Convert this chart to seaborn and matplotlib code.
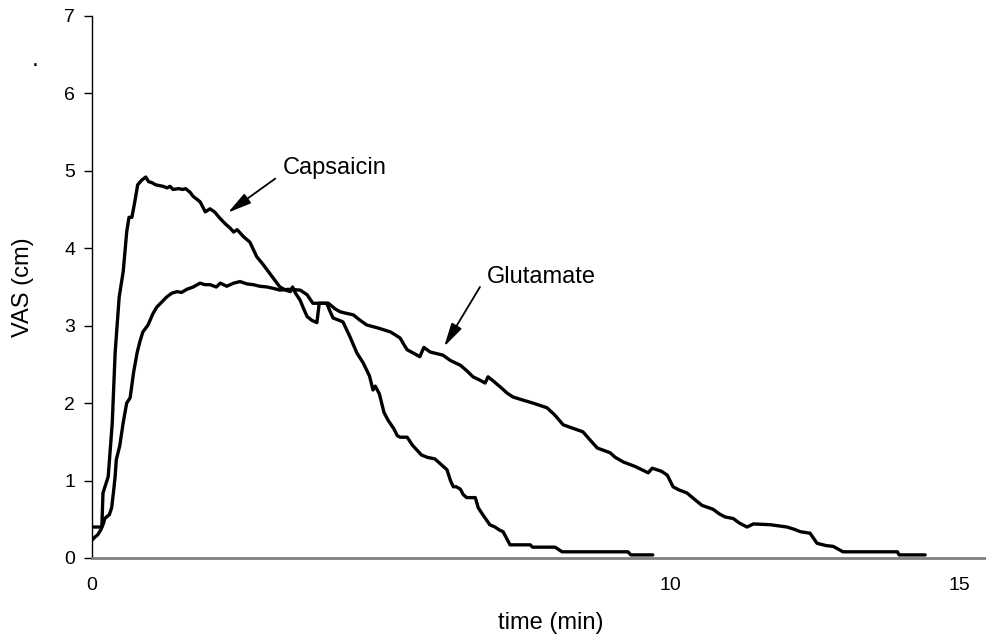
import numpy as np
import pandas as pd
import seaborn as sns
import matplotlib.pyplot as plt

# capsaicin curve (time in min, VAS in cm)
caps_t = [0, 0.17, 0.19, 0.28, 0.35, 0.40, 0.47, 0.54, 0.60, 0.64, 0.69, 0.74, 0.79, 0.86, 0.93,
          0.98, 1.03, 1.10, 1.23, 1.30, 1.35, 1.40, 1.50, 1.57, 1.62, 1.70, 1.75, 1.82, 1.87, 1.96,
          2.04, 2.12, 2.21, 2.30, 2.39, 2.45, 2.51, 2.62, 2.73, 2.85, 2.95, 3.03, 3.13, 3.25, 3.35,
          3.43, 3.47, 3.52, 3.60, 3.66, 3.72, 3.80, 3.89, 3.93, 4.06, 4.12, 4.17, 4.34, 4.46, 4.58,
          4.69, 4.80, 4.86, 4.90, 4.97, 5.05, 5.12, 5.22, 5.28, 5.33, 5.45, 5.55, 5.70, 5.80, 5.93,
          6.05, 6.14, 6.20, 6.25, 6.30, 6.37, 6.42, 6.48, 6.63, 6.68, 6.74, 6.88, 6.97, 7.05, 7.11,
          7.23, 7.58, 7.62, 8.01, 8.13, 9.27, 9.32, 9.70]
caps_v = [0.40, 0.40, 0.84, 1.05, 1.74, 2.65, 3.37, 3.70, 4.21, 4.40, 4.40, 4.60, 4.82, 4.88, 4.92,
          4.86, 4.85, 4.82, 4.80, 4.78, 4.80, 4.76, 4.77, 4.76, 4.77, 4.72, 4.67, 4.63, 4.60, 4.47,
          4.51, 4.47, 4.39, 4.32, 4.26, 4.21, 4.24, 4.15, 4.08, 3.89, 3.80, 3.72, 3.62, 3.50, 3.46,
          3.44, 3.50, 3.42, 3.33, 3.22, 3.12, 3.07, 3.04, 3.29, 3.29, 3.18, 3.10, 3.05, 2.86, 2.65,
          2.52, 2.35, 2.17, 2.22, 2.12, 1.88, 1.78, 1.67, 1.58, 1.56, 1.56, 1.45, 1.33, 1.30, 1.28,
          1.20, 1.14, 1.00, 0.92, 0.92, 0.89, 0.82, 0.78, 0.78, 0.65, 0.58, 0.43, 0.40, 0.36, 0.34,
          0.17, 0.17, 0.14, 0.14, 0.08, 0.08, 0.04, 0.04]

# glutamate curve
glut_t = [0, 0.05, 0.10, 0.15, 0.20, 0.22, 0.30, 0.34, 0.37, 0.40, 0.42, 0.48, 0.54, 0.60, 0.66,
          0.72, 0.78, 0.83, 0.88, 0.97, 1.05, 1.12, 1.20, 1.29, 1.38, 1.47, 1.55, 1.64, 1.75, 1.87,
          1.95, 2.04, 2.15, 2.22, 2.33, 2.45, 2.56, 2.68, 2.79, 2.90, 3.03, 3.15, 3.25, 3.40, 3.60,
          3.72, 3.82, 4.09, 4.20, 4.29, 4.40, 4.52, 4.62, 4.75, 4.95, 5.16, 5.25, 5.33, 5.40, 5.45,
          5.55, 5.67, 5.74, 5.85, 6.07, 6.20, 6.37, 6.48, 6.59, 6.70, 6.80, 6.85, 6.95, 7.06, 7.18,
          7.28, 7.45, 7.63, 7.87, 8.00, 8.15, 8.30, 8.49, 8.62, 8.74, 8.96, 9.05, 9.19, 9.40, 9.62,
          9.69, 9.85, 9.95, 10.05, 10.15, 10.29, 10.45, 10.55, 10.74, 10.85, 10.95, 11.09, 11.20,
          11.33, 11.44, 11.73, 12.02, 12.15, 12.25, 12.42, 12.54, 12.70, 12.82, 12.99, 13.93, 13.96,
          14.41]
glut_v = [0.23, 0.27, 0.30, 0.36, 0.45, 0.51, 0.56, 0.65, 0.84, 1.05, 1.27, 1.45, 1.75, 2.00, 2.07,
          2.40, 2.65, 2.80, 2.92, 3.01, 3.15, 3.24, 3.30, 3.37, 3.42, 3.44, 3.43, 3.47, 3.50, 3.55,
          3.53, 3.53, 3.50, 3.55, 3.51, 3.55, 3.57, 3.54, 3.53, 3.51, 3.50, 3.48, 3.46, 3.47, 3.46,
          3.40, 3.29, 3.29, 3.22, 3.18, 3.16, 3.14, 3.08, 3.01, 2.97, 2.92, 2.88, 2.84, 2.75, 2.69,
          2.65, 2.60, 2.72, 2.66, 2.62, 2.55, 2.49, 2.42, 2.34, 2.30, 2.26, 2.34, 2.28, 2.21, 2.13,
          2.08, 2.04, 2.00, 1.94, 1.85, 1.72, 1.68, 1.63, 1.52, 1.42, 1.36, 1.30, 1.24, 1.18, 1.10,
          1.16, 1.12, 1.07, 0.92, 0.88, 0.84, 0.74, 0.68, 0.63, 0.57, 0.53, 0.51, 0.45,
          0.40, 0.44, 0.43, 0.40, 0.37, 0.34, 0.32, 0.19, 0.16, 0.15, 0.08, 0.08, 0.04,
          0.04]

x_ticks = [0, 10, 15]
y_ticks = [0, 1, 2, 3, 4, 5, 6, 7]

sns.set_style("white")
plt.rcParams['font.family'] = ['Liberation Sans', 'DejaVu Sans']
plt.rcParams['text.color'] = 'black'
plt.rcParams['axes.labelcolor'] = 'black'
plt.rcParams['xtick.color'] = 'black'
plt.rcParams['ytick.color'] = 'black'

fig = plt.figure(figsize=(9.87, 6.40), dpi=100)
ax = fig.add_axes([92 / 987, 1 - 558 / 640, 1 - 92 / 987, (558 - 16) / 640])

df_c = pd.DataFrame({"t": caps_t, "v": caps_v})
df_g = pd.DataFrame({"t": glut_t, "v": glut_v})
sns.lineplot(data=df_c, x="t", y="v", color="black", lw=2.4, sort=False, ax=ax)
sns.lineplot(data=df_g, x="t", y="v", color="black", lw=2.4, sort=False, ax=ax)

ax.set_xlim(0, 15.48)
ax.set_ylim(0, 7)
ax.set_xticks(x_ticks)
ax.set_yticks(y_ticks)
ax.tick_params(axis="x", length=0, pad=14, labelsize=14)
ax.tick_params(axis="y", left=True, length=6, width=1, color="black", pad=6, labelsize=14)

for s in ["top", "right"]:
    ax.spines[s].set_visible(False)
ax.spines["left"].set_color("black")
ax.spines["left"].set_linewidth(1)
ax.spines["bottom"].set_color("#808080")
ax.spines["bottom"].set_linewidth(2)

ax.set_xlabel("time (min)", fontsize=17)
ax.xaxis.set_label_coords(0.513, -0.10)
ax.set_ylabel("VAS (cm)", fontsize=17, labelpad=22)

arrow = dict(arrowstyle="-|>,head_length=0.9,head_width=0.22", color="black", lw=1.3,
             mutation_scale=16, shrinkA=0, shrinkB=0)
ax.annotate("", xy=(2.35, 4.46), xytext=(3.17, 4.90), arrowprops=arrow)
ax.text(3.30, 5.04, "Capsaicin", fontsize=17, va="center", ha="left")
ax.annotate("", xy=(6.09, 2.73), xytext=(6.71, 3.50), arrowprops=arrow)
ax.text(6.83, 3.63, "Glutamate", fontsize=17, va="center", ha="left")

fig.text(32 / 987, 1 - 66 / 640, ".", fontsize=18)

fig.savefig("out.png", dpi=100)
